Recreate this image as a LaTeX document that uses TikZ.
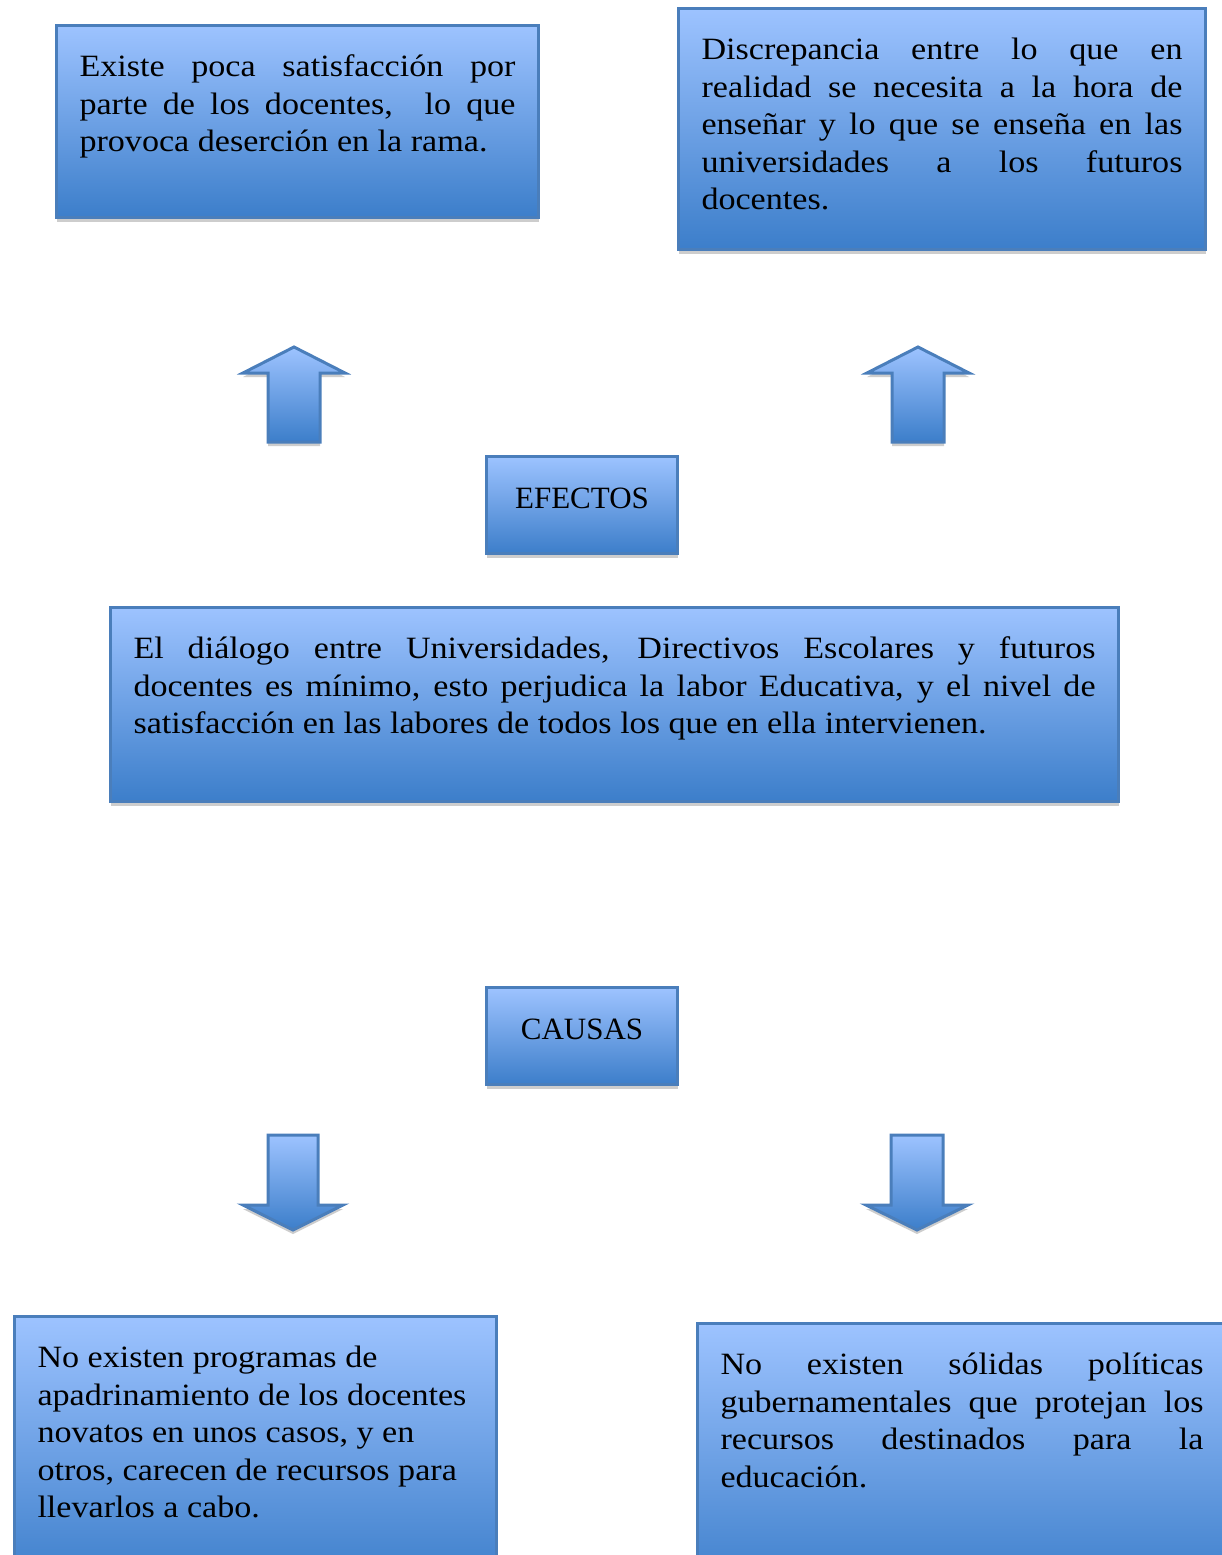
\documentclass[tikz,border=0pt]{standalone}
\usepackage{fontspec}
\setmainfont{Liberation Serif}[FakeStretch=1.1]
\newfontfamily\labelfont{Liberation Serif}
\usetikzlibrary{shadows}
\definecolor{bord}{RGB}{74,126,187}
\definecolor{topc}{RGB}{157,195,255}
\definecolor{botc}{RGB}{60,126,202}
\definecolor{shadc}{RGB}{205,205,205}
\tikzset{
  bluebox/.style={draw=bord, line width=3pt, top color=topc, bottom color=botc,
    inner sep=0pt, anchor=north west, align=left,
    font=\fontsize{31}{37.5}\selectfont,
    drop shadow={shadow xshift=0pt, shadow yshift=-4pt, fill=shadc, opacity=1}},
  bluearrow/.style={draw=bord, line width=3pt, top color=topc, bottom color=botc, line join=miter,
    drop shadow={shadow xshift=0pt, shadow yshift=-4pt, fill=shadc, opacity=1}},
  labelbox/.style={bluebox, minimum width=191pt, minimum height=97pt, align=center,
    font=\labelfont\fontsize{31}{36}\selectfont,
    text height=20pt, text depth=14pt},
}
% #1 width, #2 height, #3 text
\newcommand{\mytextbox}[3]{\parbox[c][#2pt][t]{#1pt}{\vspace*{25pt}\hspace*{23pt}\parbox[t]{\dimexpr#1pt-46pt\relax}{\parindent0pt\strut #3}}}
\begin{document}
\begin{tikzpicture}[x=1pt,y=-1pt]
\useasboundingbox[fill=white] (0,0) rectangle (1222,1555);

\node[bluebox] (b1) at (55,24) {\mytextbox{482}{192}{Existe poca satisfacción por\linebreak parte de los docentes, \ lo que\linebreak provoca deserción en la rama.}};

\node[bluebox] (b2) at (677,7) {\mytextbox{527}{241}{Discrepancia entre lo que en\linebreak realidad se necesita a la hora de\linebreak enseñar y lo que se enseña en las\linebreak universidades a los futuros\linebreak docentes.}};

\path[bluearrow] (268,442) -- (268,373) -- (243,373) -- (294,347) -- (345,373) -- (320,373) -- (320,442) -- cycle;
\path[bluearrow] (892,442) -- (892,373) -- (867,373) -- (918,347) -- (969,373) -- (944,373) -- (944,442) -- cycle;

\node[labelbox] (efectos) at (485,455) {EFECTOS};

\node[bluebox] (big) at (109,606) {\mytextbox{1008}{194}{El diálogo entre Universidades, Directivos Escolares y futuros\linebreak docentes es mínimo, esto perjudica la labor Educativa, y el nivel de\linebreak satisfacción en las labores de todos los que en ella intervienen.}};

\node[labelbox] (causas) at (485,986) {CAUSAS};

\path[bluearrow] (268,1135) -- (318,1135) -- (318,1205) -- (343,1205) -- (293,1230) -- (243,1205) -- (268,1205) -- cycle;
\path[bluearrow] (891,1135) -- (943,1135) -- (943,1205) -- (968,1205) -- (917,1230) -- (866,1205) -- (891,1205) -- cycle;

\node[bluebox] (bl) at (13,1315) {\mytextbox{482}{270}{\raggedright No existen programas de\\ apadrinamiento de los docentes\\ novatos en unos casos, y en\\ otros, carecen de recursos para\\ llevarlos a cabo.}};

\node[bluebox] (br) at (696,1322) {\mytextbox{529}{270}{No existen sólidas políticas\linebreak gubernamentales que protejan los\linebreak recursos destinados para la\linebreak educación.}};
\end{tikzpicture}
\end{document}
